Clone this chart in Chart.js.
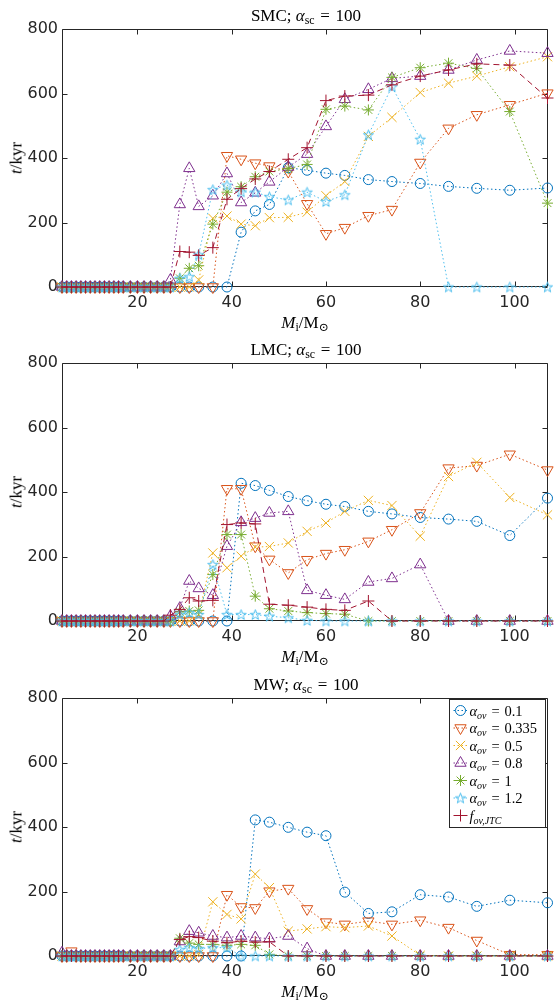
<!DOCTYPE html>
<html>
<head>
<meta charset="utf-8">
<title>Lifetime vs initial mass</title>
<script src="https://cdn.jsdelivr.net/npm/chart.js@4.4.1/dist/chart.umd.min.js"></script>
<style>
  html, body { margin: 0; padding: 0; background: #fff; }
  #page { position: relative; width: 555px; height: 1000px; overflow: hidden; }
  .panel { position: absolute; left: 0; width: 555px; height: 335px; }
  .panel canvas { position: absolute; left: 0; top: 0; }
  .tx { position: absolute; font-family: 'Liberation Serif', 'DejaVu Serif', serif; color: #000; white-space: nowrap; line-height: 1; }
  .ttl { left: 306px; top: 15px; font-size: 17px; transform: translate(-50%, -50%); }
  .xlab { left: 305px; top: 322px; font-size: 17px; transform: translate(-50%, -50%); }
  .ylab { left: 16px; top: 158px; font-size: 17px; transform: translate(-50%, -50%) rotate(-90deg); }
  .tx sub { font-size: 70%; vertical-align: -0.3em; line-height: 0; }
</style>
</head>
<body>
<div id="page"></div>
<script>
'use strict'

// initial masses (Msun)
const masses = [4, 5, 6, 7, 8, 9, 10, 11, 12, 13, 14, 15, 16, 17, 18.5, 20, 21.4, 22.8, 24.2, 25.6, 27,
  29, 31, 33, 36, 39, 42, 45, 48, 52, 56, 60, 64, 69, 74, 80, 86, 92, 99, 107]
const xTicks = [20, 40, 60, 80, 100]
const yTicks = [0, 200, 400, 600, 800]
const panelNames = ['SMC', 'LMC', 'MW']
const seriesLabels = ['α_{ov} = 0.1', 'α_{ov} = 0.335', 'α_{ov} = 0.5', 'α_{ov} = 0.8', 'α_{ov} = 1', 'α_{ov} = 1.2', 'f_{ov,JTC}']

// t / kyr, SMC
const smc01 = [0, 0, 0, 0, 0, 0, 0, 0, 0, 0, 0, 0, 0, 0, 0, 0, 0, 0, 0, 0, 0,
  0, 0, 0, 0, 0, 170, 236, 256, 370, 362, 353, 346, 333, 327, 321, 312, 306, 300, 307]
const smc0335 = [0, 0, 0, 0, 0, 0, 0, 0, 0, 0, 0, 0, 0, 0, 0, 0, 0, 0, 0, 0, 0,
  0, 0, 0, 0, 407, 396, 384, 375, 358, 258, 165, 184, 221, 240, 386, 492, 534, 565, 601]
const smc05 = [0, 0, 0, 0, 0, 0, 0, 0, 0, 0, 0, 0, 0, 0, 0, 0, 0, 0, 0, 0, 0,
  0, 0, 22, 213, 220, 195, 190, 215, 216, 232, 283, 327, 467, 526, 603, 632, 654, 683, 714]
const smc08 = [0, 0, 0, 0, 0, 0, 0, 0, 0, 0, 0, 0, 0, 0, 0, 0, 0, 0, 0, 0, 22,
  256, 368, 250, 283, 352, 262, 292, 326, 372, 412, 498, 582, 613, 647, 654, 673, 704, 732, 725]
const smc1 = [0, 0, 0, 0, 0, 0, 0, 0, 0, 0, 0, 0, 0, 0, 0, 0, 0, 0, 0, 0, 0,
  27, 58, 66, 195, 294, 311, 342, 358, 367, 380, 551, 561, 549, 650, 680, 694, 678, 544, 260]
const smc12 = [0, 0, 0, 0, 0, 0, 0, 0, 0, 0, 0, 0, 0, 0, 0, 0, 0, 0, 0, 0, 0,
  27, 32, 100, 302, 316, 295, 294, 280, 270, 294, 265, 286, 472, 621, 458, 0, 0, 0, 0]
const smcJTC = [0, 0, 0, 0, 0, 0, 0, 0, 0, 0, 0, 0, 0, 0, 0, 0, 0, 0, 0, 0, 0,
  110, 108, 98, 122, 272, 305, 335, 358, 396, 432, 578, 592, 595, 627, 654, 673, 692, 688, 586]

// t / kyr, LMC
const lmc01 = [0, 0, 0, 0, 0, 0, 0, 0, 0, 0, 0, 0, 0, 0, 0, 0, 0, 0, 0, 0, 0,
  0, 0, 0, 0, 0, 427, 420, 405, 386, 373, 362, 355, 340, 332, 321, 316, 309, 265, 381]
const lmc0335 = [0, 0, 0, 0, 0, 0, 0, 0, 0, 0, 0, 0, 0, 0, 0, 0, 0, 0, 0, 0, 0,
  0, 0, 0, 0, 410, 410, 232, 191, 149, 190, 209, 221, 247, 283, 335, 474, 482, 517, 468]
const lmc05 = [0, 0, 0, 0, 0, 0, 0, 0, 0, 0, 0, 0, 0, 0, 0, 0, 0, 0, 0, 0, 0,
  0, 0, 20, 211, 165, 201, 229, 231, 242, 278, 304, 340, 374, 358, 263, 448, 492, 383, 329]
const lmc08 = [0, 0, 0, 0, 0, 0, 0, 0, 0, 0, 0, 0, 0, 0, 0, 0, 0, 0, 0, 0, 15,
  40, 124, 101, 80, 232, 306, 319, 335, 340, 95, 80, 67, 121, 132, 175, 0, 0, 0, 0]
const lmc1 = [0, 0, 0, 0, 0, 0, 0, 0, 0, 0, 0, 0, 0, 0, 0, 0, 0, 0, 0, 0, 0,
  28, 31, 33, 144, 268, 268, 77, 38, 31, 26, 23, 21, 0, 0, 0, 0, 0, 0, 0]
const lmc12 = [0, 0, 0, 0, 0, 0, 0, 0, 0, 0, 0, 0, 0, 0, 0, 0, 0, 0, 0, 0, 0,
  20, 26, 20, 175, 20, 20, 20, 15, 10, 2, 0, 0, 0, 0, 0, 0, 0, 0, 0]
const lmcJTC = [0, 0, 0, 0, 0, 0, 0, 0, 0, 0, 0, 0, 0, 0, 0, 0, 0, 0, 0, 0, 18,
  36, 72, 62, 64, 299, 304, 301, 52, 49, 43, 36, 33, 62, 0, 0, 0, 0, 0, 0]

// t / kyr, MW
const mw01 = [0, 0, 0, 0, 0, 0, 0, 0, 0, 0, 0, 0, 0, 0, 0, 0, 0, 0, 0, 0, 0,
  0, 0, 0, 0, 0, 0, 422, 415, 399, 384, 373, 198, 132, 137, 190, 183, 154, 173, 165]
const mw0335 = [0, 0, 15, 0, 0, 0, 0, 0, 0, 0, 0, 0, 0, 0, 0, 0, 0, 0, 0, 0, 0,
  0, 0, 0, 0, 190, 152, 149, 201, 209, 146, 105, 98, 108, 98, 111, 88, 48, 4, 4]
const mw05 = [0, 0, 0, 0, 0, 0, 0, 0, 0, 0, 0, 0, 0, 0, 0, 0, 0, 0, 0, 0, 0,
  0, 0, 5, 168, 129, 115, 254, 212, 77, 84, 91, 88, 93, 62, 2, 0, 0, 0, 0]
const mw08 = [10, 0, 0, 0, 0, 0, 0, 0, 0, 0, 0, 0, 0, 0, 0, 0, 0, 0, 0, 0, 0,
  45, 77, 72, 62, 57, 62, 57, 54, 62, 23, 0, 0, 0, 0, 0, 0, 0, 0, 0]
const mw1 = [0, 0, 0, 0, 0, 0, 0, 0, 0, 0, 0, 0, 0, 0, 0, 0, 0, 0, 0, 0, 0,
  55, 40, 36, 36, 33, 36, 33, 5, 0, 0, 0, 0, 0, 0, 0, 0, 0, 0, 0]
const mw12 = [0, 0, 0, 0, 0, 0, 0, 0, 0, 0, 0, 0, 0, 0, 0, 0, 0, 0, 0, 0, 0,
  20, 26, 23, 26, 26, 0, 0, 0, 0, 0, 0, 0, 0, 0, 0, 0, 0, 0, 0]
const mwJTC = [0, 0, 0, 0, 0, 0, 0, 0, 0, 0, 0, 0, 0, 0, 0, 0, 0, 0, 0, 0, 0,
  51, 60, 57, 46, 41, 46, 43, 44, 0, 0, 0, 0, 0, 0, 0, 0, 0, 0, 0]

const panelSeries = [
  [smc01, smc0335, smc05, smc08, smc1, smc12, smcJTC],
  [lmc01, lmc0335, lmc05, lmc08, lmc1, lmc12, lmcJTC],
  [mw01, mw0335, mw05, mw08, mw1, mw12, mwJTC]
]

// matlab default line colours and marker set
const colors = ['#0072BD', '#D95319', '#EDB120', '#7E2F8E', '#77AC30', '#4DBEEE', '#A2142F']
const markers = ['circle', 'triangle', 'crossRot', 'triangle', 'star', 'pentagram', 'cross']
const rotations = [0, 180, 0, 0, 0, 0, 0]
const radii = [5, 6.5, 6.5, 6.5, 5.5, 6, 6]
const DOTTED = [1.5, 2.5]
const DASHED = [6, 4]
const AXIS = '#262626'

function makePentagram (color) {
  const c = document.createElement('canvas')
  c.width = 13
  c.height = 13
  const g = c.getContext('2d')
  g.strokeStyle = color
  g.lineWidth = 1
  g.beginPath()
  for (let i = 0; i < 10; i++) {
    const r = i % 2 === 0 ? 5.4 : 2.2
    const ang = -Math.PI / 2 + i * Math.PI / 5
    const px = 6.5 + r * Math.cos(ang)
    const py = 7 + r * Math.sin(ang)
    if (i === 0) g.moveTo(px, py)
    else g.lineTo(px, py)
  }
  g.closePath()
  g.stroke()
  return c
}

function pointStyleFor (i) {
  return markers[i] === 'pentagram' ? makePentagram(colors[i]) : markers[i]
}

// box round the axes with inward ticks on all four sides
const boxTicks = {
  id: 'boxTicks',
  beforeDatasetsDraw (chart) {
    const { ctx, chartArea: a, scales: { x, y } } = chart
    const L = Math.round(a.left) + 0.5
    const R = Math.round(a.right) - 0.5
    const T = Math.round(a.top) + 0.5
    const B = Math.round(a.bottom) - 0.5
    ctx.save()
    ctx.strokeStyle = AXIS
    ctx.lineWidth = 1
    ctx.beginPath()
    ctx.rect(L, T, R - L, B - T)
    x.ticks.forEach(t => {
      const px = Math.round(x.getPixelForValue(t.value)) + 0.5
      ctx.moveTo(px, B); ctx.lineTo(px, B - 5)
      ctx.moveTo(px, T); ctx.lineTo(px, T + 5)
    })
    y.ticks.forEach(t => {
      const py = Math.round(y.getPixelForValue(t.value)) + 0.5
      ctx.moveTo(L, py); ctx.lineTo(L + 5, py)
      ctx.moveTo(R, py); ctx.lineTo(R - 5, py)
    })
    ctx.stroke()
    ctx.restore()
  }
}

function drawMathLabel (ctx, label, x, y) {
  const m = label.match(/^(.*?)_\{(.*?)\}(.*)$/)
  const rest = m ? m[3].replace(' = ', '\u2004=\u2004') : ''
  const parts = m
    ? [[m[1], 'italic 14.5px "Liberation Serif"', 0], [m[2], 'italic 10px "Liberation Serif"', 3], [rest, '14.5px "Liberation Serif"', 0]]
    : [[label, '14.5px "Liberation Serif"', 0]]
  ctx.textBaseline = 'alphabetic'
  ctx.textAlign = 'left'
  ctx.fillStyle = '#000'
  let cx = x
  parts.forEach(([text, font, dy]) => {
    ctx.font = font
    ctx.fillText(text, cx, y + dy)
    cx += ctx.measureText(text).width
  })
}

const legendBox = {
  id: 'legendBox',
  afterDatasetsDraw (chart, args, opts) {
    if (!opts.show) return
    const { ctx, chartArea: a } = chart
    const w = 96
    const h = 128
    const left = Math.round(a.right) - w - 2.5
    const top = Math.round(a.top) + 1.5
    ctx.save()
    ctx.fillStyle = '#fff'
    ctx.fillRect(left, top, w, h)
    ctx.strokeStyle = AXIS
    ctx.lineWidth = 1
    ctx.strokeRect(left, top, w, h)
    seriesLabels.forEach((label, i) => {
      const cy = top + 11 + i * 17.5
      ctx.strokeStyle = colors[i]
      ctx.lineWidth = 1
      ctx.setLineDash(i === 6 ? DASHED : DOTTED)
      ctx.beginPath()
      ctx.moveTo(left + 4, cy)
      ctx.lineTo(left + 18, cy)
      ctx.stroke()
      ctx.setLineDash([])
      ctx.fillStyle = 'rgba(0,0,0,0)'
      ctx.strokeStyle = colors[i]
      Chart.helpers.drawPoint(ctx, {
        pointStyle: pointStyleFor(i),
        rotation: rotations[i],
        radius: radii[i],
        borderWidth: 1
      }, left + 11, cy)
      drawMathLabel(ctx, label, left + 20, cy + 5)
    })
    ctx.restore()
  }
}

function makeDatasets (values) {
  return values.map((vals, i) => ({
    label: seriesLabels[i],
    data: masses.map((m, k) => ({ x: m, y: vals[k] })),
    showLine: true,
    borderColor: colors[i],
    borderWidth: 1,
    borderDash: i === 6 ? DASHED : DOTTED,
    backgroundColor: 'rgba(0,0,0,0)',
    pointStyle: pointStyleFor(i),
    pointRotation: rotations[i],
    pointRadius: radii[i],
    pointBorderColor: colors[i],
    pointBackgroundColor: 'rgba(0,0,0,0)',
    pointBorderWidth: 1,
    tension: 0,
    clip: false,
    order: 6 - i
  }))
}

const tickFont = { family: 'DejaVu Sans', size: 16 }

function renderPanel (idx) {
  const page = document.getElementById('page')
  const panel = document.createElement('div')
  panel.className = 'panel'
  panel.style.top = [0, 334, 669][idx] + 'px'
  panel.innerHTML =
    '<canvas width="555" height="335"></canvas>' +
    '<div class="tx ttl">' + panelNames[idx] + '; <i>α</i><sub>sc</sub>&#8196;=&#8196;100</div>' +
    '<div class="tx xlab"><i>M</i><sub>i</sub>/M<sub>⊙</sub></div>' +
    '<div class="tx ylab"><i>t</i>/kyr</div>'
  page.appendChild(panel)
  const canvas = panel.querySelector('canvas')

  new Chart(canvas.getContext('2d'), {
    type: 'scatter',
    data: { datasets: makeDatasets(panelSeries[idx]) },
    options: {
      responsive: false,
      animation: false,
      devicePixelRatio: 1,
      events: [],
      layout: { padding: { top: 29, right: 6, left: 0, bottom: 0 } },
      plugins: {
        legend: { display: false },
        tooltip: { enabled: false },
        legendBox: { show: idx === 2 }
      },
      scales: {
        x: {
          type: 'linear',
          min: 4,
          max: 107,
          afterBuildTicks: s => { s.ticks = xTicks.map(v => ({ value: v })) },
          afterFit: s => { s.height = 48 },
          grid: { display: false, drawTicks: false },
          border: { display: false },
          ticks: { font: tickFont, color: AXIS, padding: 6, maxRotation: 0, autoSkip: false }
        },
        y: {
          type: 'linear',
          min: 0,
          max: 800,
          afterBuildTicks: s => { s.ticks = yTicks.map(v => ({ value: v })) },
          afterFit: s => { s.width = 62 },
          grid: { display: false, drawTicks: false },
          border: { display: false },
          ticks: { font: tickFont, color: AXIS, padding: 4 }
        }
      }
    },
    plugins: [boxTicks, legendBox]
  })
}

panelNames.forEach((name, idx) => renderPanel(idx))
</script>
</body>
</html>
